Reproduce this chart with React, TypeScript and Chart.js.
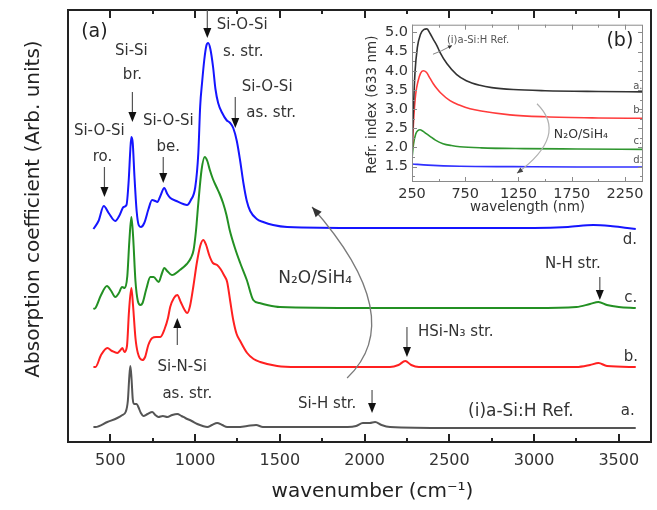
import React, { useEffect, useRef } from 'react';
import { Chart, registerables } from 'chart.js';

Chart.register(...registerables);

const FONT = '"DejaVu Sans", "Liberation Sans", sans-serif';
Chart.defaults.font.family = FONT;

// ---------- Panel (a): FTIR spectra (wavenumber, offset absorption, arb. units) ----------
const dWn = [400, 430, 461, 490, 529, 555, 578, 595, 608, 618, 624, 632, 642, 655, 667, 680, 700, 725, 746, 765, 777, 795, 818, 836, 854, 890, 930, 952, 975, 1001, 1019, 1030, 1042, 1054, 1066, 1077, 1090, 1106, 1120, 1136, 1160, 1185, 1207, 1225, 1246, 1266, 1285, 1305, 1325, 1364, 1402, 1460, 1543, 2000, 2500, 3000, 3200, 3350, 3450, 3550, 3600];
const dAbs = [212, 220, 235, 228, 220, 226, 234, 236, 260, 292, 304, 298, 265, 230, 216, 214, 218, 232, 241, 240, 239, 245, 253, 247, 243, 240, 237, 236, 241, 254, 288, 335, 360, 381, 395, 398, 392, 374, 352, 338, 328, 321, 318, 313, 300, 280, 258, 240, 230, 222, 219, 216, 214, 213, 213, 213, 214, 216, 215, 213, 212];

const cWn = [400, 412, 445, 480, 505, 529, 550, 569, 585, 600, 612, 624, 634, 648, 662, 677, 690, 712, 736, 755, 785, 805, 818, 835, 863, 910, 951, 975, 991, 1005, 1019, 1038, 1057, 1072, 1087, 1105, 1126, 1145, 1165, 1185, 1204, 1235, 1266, 1305, 1343, 1380, 1425, 1500, 2000, 3000, 3250, 3330, 3380, 3430, 3500, 3600];
const cAbs = [132, 133, 146, 155, 150, 144, 148, 154, 153, 165, 200, 224, 205, 160, 140, 136, 138, 152, 164, 164, 159, 168, 173, 170, 166, 171, 177, 183, 191, 210, 238, 271, 284, 280, 271, 262, 254, 247, 238, 226, 211, 193, 178, 161, 141, 138, 136, 134, 133, 133, 134, 137, 139, 136, 134, 133];

const bWn = [400, 412, 445, 482, 510, 541, 560, 571, 583, 598, 610, 624, 634, 648, 662, 689, 705, 724, 747, 770, 795, 820, 840, 853, 875, 895, 915, 935, 954, 970, 990, 1010, 1030, 1048, 1065, 1085, 1105, 1130, 1150, 1170, 1189, 1207, 1225, 1245, 1266, 1307, 1345, 1384, 1484, 1600, 2150, 2200, 2240, 2275, 2320, 3250, 3330, 3380, 3430, 3600];
const bAbs = [74, 74, 86, 93, 90, 88, 91, 93, 89, 95, 130, 153, 135, 103, 88, 81, 84, 96, 103, 104, 104, 112, 123, 134, 143, 146, 139, 132, 128, 135, 155, 178, 195, 201, 196, 185, 178, 176, 172, 166, 159, 140, 121, 107, 100, 88, 82, 79, 75, 74, 74, 76, 80, 76, 74, 74, 76, 78, 75, 74];

const aWn = [400, 412, 482, 541, 571, 590, 603, 612, 618, 625, 632, 640, 655, 665, 680, 694, 720, 747, 765, 783, 810, 836, 865, 895, 920, 942, 980, 1013, 1045, 1072, 1100, 1130, 1160, 1189, 1250, 1307, 1360, 1400, 1443, 1900, 1950, 1990, 2030, 2062, 2100, 2150, 2500, 3600];
const aAbs = [14, 14, 19, 23, 26, 29, 40, 65, 75, 62, 42, 37, 37, 34, 28, 25, 27, 29, 26, 24, 25, 24, 26, 27, 25, 23, 20, 17, 15, 14, 16, 18, 16, 14, 14, 15, 16, 14, 14, 14, 15, 18, 18, 19, 16, 14, 13, 13];

const MAIN_X_TICKS = [500, 1000, 1500, 2000, 2500, 3000, 3500];
const MAIN_X_MINOR = [750, 1250, 1750, 2250, 2750, 3250];

// ---------- Panel (b): refractive index vs wavelength ----------
const riA_nm = [250, 262, 278, 300, 330, 360, 390, 420, 450, 485, 513, 579, 670, 760, 888, 1000, 1200, 1500, 2000, 2420];
const riA = [1.9, 2.9, 3.95, 4.6, 4.95, 5.07, 5.09, 4.97, 4.82, 4.65, 4.48, 4.18, 3.9, 3.74, 3.62, 3.56, 3.51, 3.48, 3.46, 3.45];
const riB_nm = [250, 265, 285, 306, 330, 355, 385, 420, 450, 485, 520, 607, 700, 795, 900, 1170, 1500, 2000, 2420];
const riB = [1.8, 2.7, 3.4, 3.72, 3.93, 4.0, 3.96, 3.8, 3.66, 3.53, 3.42, 3.22, 3.1, 3.01, 2.95, 2.85, 2.8, 2.77, 2.76];
const riC_nm = [250, 265, 285, 305, 325, 350, 380, 419, 470, 541, 620, 700, 900, 1300, 1800, 2420];
const riC = [1.72, 2.1, 2.35, 2.44, 2.46, 2.43, 2.37, 2.29, 2.19, 2.1, 2.05, 2.02, 1.99, 1.97, 1.96, 1.95];
const riD_nm = [250, 400, 700, 1200, 1800, 2420];
const riD = [1.57, 1.54, 1.51, 1.5, 1.49, 1.49];

const INSET_X_TICKS = [250, 750, 1250, 1750, 2250];
const INSET_X_MINOR = [500, 1000, 1500, 2000];
const INSET_Y_TICKS = [1.5, 2.0, 2.5, 3.0, 3.5, 4.0, 4.5, 5.0];
const INSET_Y_MINOR = [1.25, 1.75, 2.25, 2.75, 3.25, 3.75, 4.25, 4.75];

// ---------- Annotations (data coordinates) ----------
type Lbl = { text: string; x: number; y: number; size: number; color?: string; align?: CanvasTextAlign };
const MAIN_LABELS: Lbl[] = [
  { text: '(a)', x: 406, y: 409, size: 19, color: '#222' },
  { text: 'Si-O-Si', x: 435, y: 310, size: 15 },
  { text: 'ro.', x: 453, y: 284, size: 15 },
  { text: 'Si-Si', x: 624, y: 390, size: 15 },
  { text: 'br.', x: 630, y: 366, size: 15 },
  { text: 'Si-O-Si', x: 842, y: 320, size: 15 },
  { text: 'be.', x: 842, y: 294, size: 15 },
  { text: 'Si-O-Si', x: 1278, y: 416, size: 15 },
  { text: 's. str.', x: 1284, y: 389, size: 15 },
  { text: 'Si-O-Si', x: 1425, y: 354, size: 15 },
  { text: 'as. str.', x: 1449, y: 328, size: 15 },
  { text: 'N₂O/SiH₄', x: 1708, y: 162, size: 17 },
  { text: 'Si-N-Si', x: 924, y: 74, size: 15 },
  { text: 'as. str.', x: 954, y: 47, size: 15 },
  { text: 'Si-H str.', x: 1779, y: 37, size: 15 },
  { text: 'HSi-N₃ str.', x: 2315, y: 109, size: 15, align: 'left' },
  { text: 'N-H str.', x: 3229, y: 177, size: 15 },
  { text: '(i)a-Si:H Ref.', x: 2922, y: 29, size: 17 },
  { text: 'a.', x: 3553, y: 30, size: 15 },
  { text: 'b.', x: 3571, y: 84, size: 15 },
  { text: 'c.', x: 3571, y: 143, size: 15 },
  { text: 'd.', x: 3565, y: 201, size: 15 },
];
const MAIN_ARROWS = [
  { x: 465, from: 274, to: 244 },
  { x: 630, from: 349, to: 319 },
  { x: 812, from: 284, to: 258 },
  { x: 1072, from: 431, to: 403 },
  { x: 1237, from: 344, to: 313 },
  { x: 895, from: 96, to: 123 },
  { x: 2044, from: 51, to: 28 },
  { x: 2250, from: 114, to: 84 },
  { x: 3388, from: 164, to: 141 },
];
const MAIN_CURVED = { sx: 1897, sy: 63, cx: 2268, cy: 123, ex: 1690, ey: 234 };

const INSET_LABELS: Lbl[] = [
  { text: '(b)', x: 2203, y: 4.78, size: 19, color: '#222' },
  { text: '(i)a-Si:H Ref.', x: 870, y: 4.78, size: 10, color: '#555' },
  { text: 'a.', x: 2372, y: 3.59, size: 10, color: '#555' },
  { text: 'b.', x: 2372, y: 2.97, size: 10, color: '#555' },
  { text: 'c.', x: 2372, y: 2.15, size: 10, color: '#555' },
  { text: 'd.', x: 2372, y: 1.65, size: 10, color: '#555' },
  { text: 'N₂O/SiH₄', x: 1837, y: 2.34, size: 12.5, color: '#333' },
];
const INSET_CURVED = { sx: 1424, sy: 3.14, cx: 1724, cy: 2.32, ex: 1236, ey: 1.33 };
const INSET_POINTER = { sx: 447, sy: 4.43, cx: 520, cy: 4.5, ex: 626, ey: 4.66 };

const pts = (xs: number[], ys: number[]) => xs.map((x, i) => ({ x, y: ys[i] }));

function head(ctx: CanvasRenderingContext2D, tx: number, ty: number, dx: number, dy: number, len: number, hw: number, color: string) {
  const L = Math.hypot(dx, dy) || 1;
  const ux = dx / L, uy = dy / L;
  const bx = tx - ux * len, by = ty - uy * len;
  ctx.beginPath();
  ctx.moveTo(tx, ty);
  ctx.lineTo(bx - uy * hw, by + ux * hw);
  ctx.lineTo(bx + uy * hw, by - ux * hw);
  ctx.closePath();
  ctx.fillStyle = color;
  ctx.fill();
}

function drawLabels(ctx: CanvasRenderingContext2D, labels: Lbl[], xs: any, ys: any) {
  for (const l of labels) {
    ctx.font = `${l.size}px ${FONT}`;
    ctx.fillStyle = l.color || '#333';
    ctx.textAlign = l.align || 'center';
    ctx.textBaseline = 'middle';
    ctx.fillText(l.text, xs.getPixelForValue(l.x), ys.getPixelForValue(l.y));
  }
}

function curvedArrow(ctx: CanvasRenderingContext2D, c: any, xs: any, ys: any, color: string, headColor: string, lw: number, hl: number, hw: number) {
  const sx = xs.getPixelForValue(c.sx), sy = ys.getPixelForValue(c.sy);
  const cx = xs.getPixelForValue(c.cx), cy = ys.getPixelForValue(c.cy);
  const ex = xs.getPixelForValue(c.ex), ey = ys.getPixelForValue(c.ey);
  ctx.beginPath();
  ctx.moveTo(sx, sy);
  ctx.quadraticCurveTo(cx, cy, ex, ey);
  ctx.strokeStyle = color;
  ctx.lineWidth = lw;
  ctx.stroke();
  head(ctx, ex, ey, ex - cx, ey - cy, hl, hw, headColor);
}

const mainDecor = {
  id: 'mainDecor',
  afterDraw(chart: any) {
    const { ctx, chartArea: a, scales } = chart;
    const xs = scales.x, ys = scales.y;
    ctx.save();
    // frame
    ctx.strokeStyle = '#222';
    ctx.lineWidth = 2;
    ctx.strokeRect(a.left, a.top, a.right - a.left, a.bottom - a.top);
    // inward ticks, bottom & top
    ctx.lineWidth = 2;
    const tick = (v: number, len: number) => {
      const px = Math.round(xs.getPixelForValue(v));
      ctx.beginPath();
      ctx.moveTo(px, a.bottom); ctx.lineTo(px, a.bottom - len);
      ctx.moveTo(px, a.top); ctx.lineTo(px, a.top + len);
      ctx.stroke();
    };
    MAIN_X_TICKS.forEach(v => tick(v, 8));
    MAIN_X_MINOR.forEach(v => tick(v, 4));
    // straight arrows
    for (const ar of MAIN_ARROWS) {
      const px = xs.getPixelForValue(ar.x);
      const y1 = ys.getPixelForValue(ar.from), y2 = ys.getPixelForValue(ar.to);
      const dir = Math.sign(y2 - y1);
      ctx.beginPath();
      ctx.moveTo(px, y1);
      ctx.lineTo(px, y2 - dir * 8);
      ctx.strokeStyle = '#555';
      ctx.lineWidth = 1.2;
      ctx.stroke();
      head(ctx, px, y2, 0, dir, 10, 4, '#111');
    }
    curvedArrow(ctx, MAIN_CURVED, xs, ys, '#7a7a7a', '#333', 1.3, 10, 4);
    drawLabels(ctx, MAIN_LABELS, xs, ys);
    // axis titles
    ctx.fillStyle = '#222';
    ctx.textAlign = 'center';
    ctx.textBaseline = 'middle';
    ctx.font = `20px ${FONT}`;
    ctx.fillText('wavenumber (cm⁻¹)', (a.left + a.right) / 2 + 13, a.bottom + 50);
    ctx.save();
    ctx.translate(a.left - 34, a.top + 199);
    ctx.rotate(-Math.PI / 2);
    ctx.fillText('Absorption coefficient (Arb. units)', 0, 0);
    ctx.restore();
    ctx.restore();
  },
};

const insetDecor = {
  id: 'insetDecor',
  afterDraw(chart: any) {
    const { ctx, chartArea: a, scales } = chart;
    const xs = scales.x, ys = scales.y;
    ctx.save();
    ctx.strokeStyle = '#8a8a8a';
    ctx.lineWidth = 1;
    ctx.strokeRect(a.left + 0.5, a.top + 0.5, a.right - a.left - 1, a.bottom - a.top - 1);
    const xt = (v: number, len: number) => {
      const px = Math.round(xs.getPixelForValue(v)) + 0.5;
      ctx.beginPath();
      ctx.moveTo(px, a.bottom); ctx.lineTo(px, a.bottom - len);
      ctx.moveTo(px, a.top); ctx.lineTo(px, a.top + len);
      ctx.stroke();
    };
    const yt = (v: number, len: number) => {
      const py = Math.round(ys.getPixelForValue(v)) + 0.5;
      ctx.beginPath();
      ctx.moveTo(a.left, py); ctx.lineTo(a.left + len, py);
      ctx.moveTo(a.right, py); ctx.lineTo(a.right - len, py);
      ctx.stroke();
    };
    INSET_X_TICKS.forEach(v => xt(v, 5));
    INSET_X_MINOR.forEach(v => xt(v, 3));
    INSET_Y_TICKS.forEach(v => yt(v, 5));
    INSET_Y_MINOR.forEach(v => yt(v, 3));
    curvedArrow(ctx, INSET_CURVED, xs, ys, '#b0b0b0', '#444', 1.2, 6, 2.5);
    curvedArrow(ctx, INSET_POINTER, xs, ys, '#777', '#333', 0.9, 4, 2);
    drawLabels(ctx, INSET_LABELS, xs, ys);
    ctx.fillStyle = '#333';
    ctx.textAlign = 'center';
    ctx.textBaseline = 'middle';
    ctx.font = `13.5px ${FONT}`;
    ctx.fillText('wavelength (nm)', (a.left + a.right) / 2, a.bottom + 25);
    ctx.save();
    ctx.translate(a.left - 40, a.top + 80);
    ctx.rotate(-Math.PI / 2);
    ctx.fillText('Refr. index (633 nm)', 0, 0);
    ctx.restore();
    ctx.restore();
  },
};

const lineDs = (data: any[], color: string, width: number) => ({
  data,
  borderColor: color,
  borderWidth: width,
  pointRadius: 0,
  fill: false,
  cubicInterpolationMode: 'monotone' as const,
});

export default function App() {
  const mainRef = useRef<HTMLCanvasElement>(null);
  const insetRef = useRef<HTMLCanvasElement>(null);

  useEffect(() => {
    const main = new Chart(mainRef.current!, {
      type: 'line',
      data: {
        datasets: [
          lineDs(pts(aWn, aAbs), '#555555', 2),
          lineDs(pts(bWn, bAbs), '#ff2020', 2),
          lineDs(pts(cWn, cAbs), '#239023', 2),
          lineDs(pts(dWn, dAbs), '#1515ff', 2),
        ],
      },
      options: {
        animation: false,
        responsive: false,
        layout: { padding: { left: 68, top: 10, right: 6, bottom: 0 } },
        plugins: { legend: { display: false }, tooltip: { enabled: false } },
        scales: {
          x: {
            type: 'linear',
            min: 250,
            max: 3690,
            afterBuildTicks: (s: any) => { s.ticks = MAIN_X_TICKS.map(v => ({ value: v })); },
            afterFit: (s: any) => { s.height = 68; },
            grid: { display: false, drawTicks: false },
            border: { display: false },
            ticks: { padding: 9, color: '#333', font: { size: 16 }, maxRotation: 0, autoSkip: false, callback: (v: any) => String(v) },
          },
          y: { display: false, min: -1, max: 431 },
        },
      },
      plugins: [mainDecor],
    });

    const inset = new Chart(insetRef.current!, {
      type: 'line',
      data: {
        datasets: [
          lineDs(pts(riA_nm, riA), '#333333', 1.6),
          lineDs(pts(riB_nm, riB), '#ff3b3b', 1.6),
          lineDs(pts(riC_nm, riC), '#2f962f', 1.6),
          lineDs(pts(riD_nm, riD), '#3030ff', 1.6),
        ],
      },
      options: {
        animation: false,
        responsive: false,
        layout: { padding: { left: 0, top: 5, right: 12, bottom: 0 } },
        plugins: { legend: { display: false }, tooltip: { enabled: false } },
        scales: {
          x: {
            type: 'linear',
            min: 250,
            max: 2420,
            afterBuildTicks: (s: any) => { s.ticks = INSET_X_TICKS.map(v => ({ value: v })); },
            afterFit: (s: any) => { s.height = 55; },
            grid: { display: false, drawTicks: false },
            border: { display: false },
            ticks: { padding: 4, color: '#333', font: { size: 14.5 }, maxRotation: 0, autoSkip: false, callback: (v: any) => String(v) },
          },
          y: {
            type: 'linear',
            min: 1.1,
            max: 5.2,
            afterBuildTicks: (s: any) => { s.ticks = INSET_Y_TICKS.map(v => ({ value: v })); },
            afterFit: (s: any) => { s.width = 57; },
            grid: { display: false, drawTicks: false },
            border: { display: false },
            ticks: { padding: 4, color: '#333', font: { size: 14.5 }, autoSkip: false, callback: (v: any) => Number(v).toFixed(1) },
          },
        },
      },
      plugins: [insetDecor],
    });

    return () => {
      main.destroy();
      inset.destroy();
    };
  }, []);

  return (
    <div style={{ position: 'absolute', left: 0, top: 0, width: 657, height: 510, background: '#fff' }}>
      <canvas ref={mainRef} width={657} height={510} style={{ position: 'absolute', left: 0, top: 0, width: 657, height: 510 }} />
      <canvas ref={insetRef} width={300} height={225} style={{ position: 'absolute', left: 355, top: 12, width: 300, height: 225 }} />
    </div>
  );
}
